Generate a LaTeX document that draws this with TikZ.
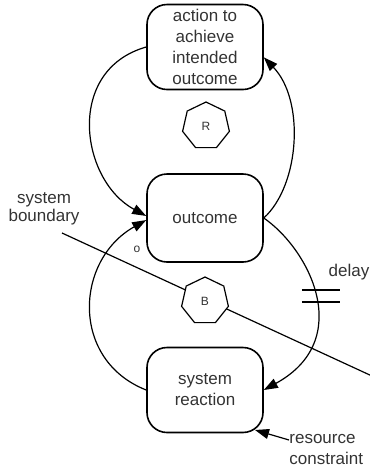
\documentclass[tikz,border=0pt]{standalone}
\usepackage{fontspec}
\setmainfont{Liberation Sans}
\usetikzlibrary{shapes.geometric,arrows.meta}
\begin{document}
\begin{tikzpicture}[x=0.5pt,y=-0.5pt,
  font=\fontsize{8.5}{10.5}\selectfont, text=black!80,
  stepbox/.style={draw, line width=0.8pt, rounded corners=10pt, minimum width=58pt,
    align=center, inner sep=0pt},
  loopmark/.style={draw, regular polygon, regular polygon sides=7, minimum size=24pt,
    inner sep=0pt, fill=white, line width=0.6pt, font=\fontsize{6}{7}\selectfont},
  link/.style={line width=0.6pt, -{Triangle[length=7pt,width=5pt]}},
  caption/.style={align=center, inner sep=0pt}]
\useasboundingbox (0,0) rectangle (370,468);

% the three stages of the loop
\node[stepbox, minimum height=42.5pt] (act) at (205,47) {action to\\achieve\\intended\\outcome};
\node[stepbox, minimum height=44pt] (out) at (205,218) {outcome};
\node[stepbox, minimum height=42.5pt] (react) at (205,390) {system\\reaction};

% system boundary
\node[caption] (sb) at (44,209) {system\\[-1.5pt]boundary};
\coordinate (sbA) at (62,233);
\coordinate (sbB) at (372,376);
\draw[line width=0.6pt] (sbA) -- (sbB);

% loop markers
\node[loopmark] (R) at (206,126) {R};
\node[loopmark] (B) at (205,301) {B};

% reinforcing loop
\draw[link] (act.west) .. controls (65,70) and (80,180) .. (out.178);
\draw[link] (out.east) .. controls (300,185) and (305,100) .. (act.-10);

% balancing loop
\draw[link] (out.east) .. controls (310,250) and (355,340) .. (react.east);
\draw[link] (react.west) .. controls (70,360) and (75,260) .. (out.182);
\node[font=\fontsize{6}{7}\selectfont] (o) at (137,249) {o};

% delay mark
\node (dl) at (349,272) {delay};
\coordinate (gap) at (321,296);
\draw[line width=0.6pt] (gap) +(-19,-6) -- +(19,-6);
\draw[line width=0.6pt] (gap) +(-19,6) -- +(19,6);

% resource constraint
\node[caption, align=left, anchor=west] (res) at (289,450) {resource\\constraint};
\coordinate (rc) at (255,430);
\draw[link] ([yshift=5pt]res.west) -- (rc);
\end{tikzpicture}
\end{document}
